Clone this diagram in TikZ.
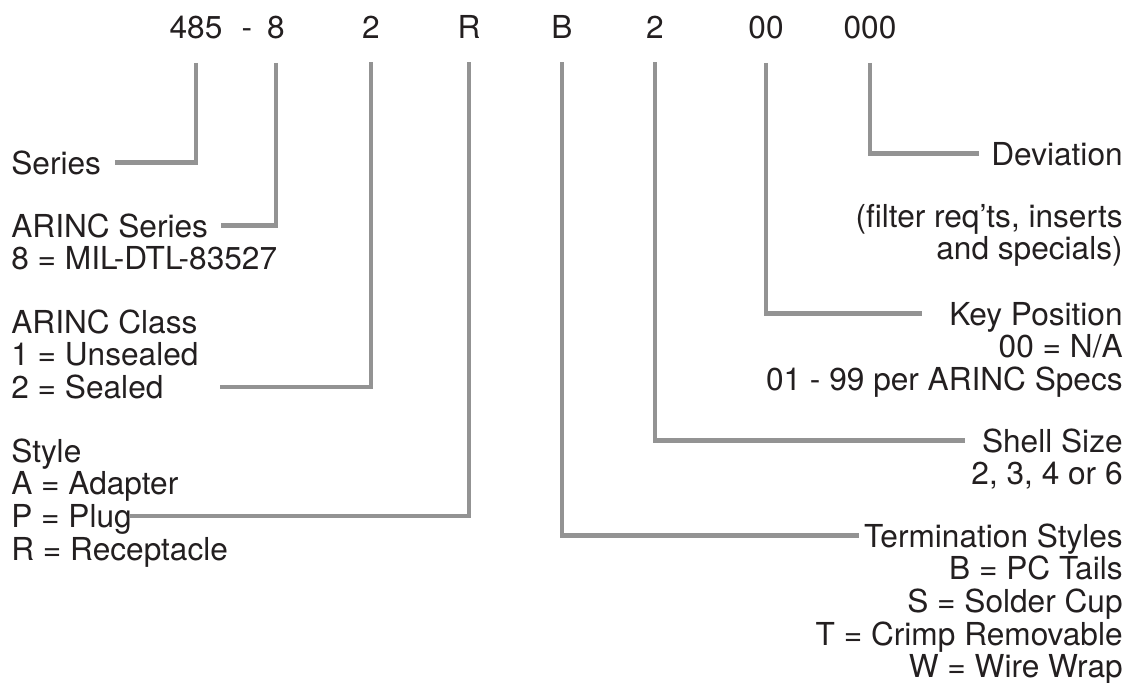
\documentclass[tikz,border=0pt]{standalone}
\usepackage{fontspec}
\setmainfont{TeX Gyre Heros}
\usepackage{tikz}
\usetikzlibrary{calc}
\definecolor{PnGray}{HTML}{939393}
\definecolor{PnInk}{HTML}{231F20}

\begin{document}
\begin{tikzpicture}[
  x=0.02cm,y=-0.02cm,
  code/.style={anchor=base,inner sep=0pt,font=\fontsize{18}{18.2}\selectfont,text=PnInk},
  lbl/.style={inner sep=0pt,text height=15.6pt,text depth=2.6pt,
    font=\fontsize{18}{18.2}\selectfont,text=PnInk},
  lead/.style={line width=2.6pt,color=PnGray}
]
  \useasboundingbox (0,0) rectangle (1137,683);

  % part number
  \node[code] (c485) at (196,38) {485};
  \node[code] (cdash) at (247,38) {-};
  \node[code] (c8) at (276,38) {8};
  \node[code] (cclass) at (371,38) {2};
  \node[code] (cstyle) at (469,38) {R};
  \node[code] (cterm) at (562,38) {B};
  \node[code] (cshell) at (655,38) {2};
  \node[code] (ckey) at (766,38) {00};
  \node[code] (cdev) at (870,38) {000};

  % left labels
  \node[lbl,anchor=base west] (series) at (11,174) {Series};
  \node[lbl,anchor=base west] (arser) at (11,237) {ARINC Series};
  \node[lbl,anchor=north west] (arser1) at (arser.south west) {8 = MIL-DTL-83527};
  \node[lbl,anchor=base west] (arcls) at (11,333) {ARINC Class};
  \node[lbl,anchor=north west] (arcls1) at (arcls.south west) {1 = Unsealed};
  \node[lbl,anchor=north west] (arcls2) at (arcls1.south west) {2 = Sealed};
  \node[lbl,anchor=base west] (style) at (11,462) {Style};
  \node[lbl,anchor=north west] (style1) at (style.south west) {A = Adapter};
  \node[lbl,anchor=north west] (style2) at (style1.south west) {P = Plug};
  \node[lbl,anchor=north west] (style3) at (style2.south west) {R = Receptacle};

  % right labels
  \node[lbl,anchor=base east] (dev) at (1123,165) {Deviation};
  \node[lbl,anchor=base east] (dev1) at (1123,227) {(filter req’ts, inserts};
  \node[lbl,anchor=north east] (dev2) at (dev1.south east) {and specials)};
  \node[lbl,anchor=base east] (key) at (1123,325) {Key Position};
  \node[lbl,anchor=north east] (key1) at (key.south east) {00 = N/A};
  \node[lbl,anchor=north east] (key2) at (key1.south east) {01 - 99 per ARINC Specs};
  \node[lbl,anchor=base east] (shell) at (1123,452) {Shell Size};
  \node[lbl,anchor=north east] (shell1) at (shell.south east) {2, 3, 4 or 6};
  \node[lbl,anchor=base east] (term) at (1123,547) {Termination Styles};
  \node[lbl,anchor=north east] (term1) at (term.south east) {B = PC Tails};
  \node[lbl,anchor=north east] (term2) at (term1.south east) {S = Solder Cup};
  \node[lbl,anchor=north east] (term3) at (term2.south east) {T = Crimp Removable};
  \node[lbl,anchor=north east] (term4) at (term3.south east) {W = Wire Wrap};

  % leaders
  \draw[lead] (c485.south) ++(0,24) |- ($(series.east)+(14,0)$);
  \draw[lead] (c8.south) ++(0,24) |- ($(arser.east)+(13,0)$);
  \draw[lead] (cclass.south) ++(0,24) |- ($(arcls2.east)+(56,0)$);
  \draw[lead] (cstyle.south) ++(0,24) |- ($(style2.east)+(-3,0)$);
  \draw[lead] (cterm.south) ++(0,24) |- ($(term.west)+(-5,0)$);
  \draw[lead] (cshell.south) ++(0,24) |- ($(shell.west)+(-17,0)$);
  \draw[lead] (ckey.south) ++(0,24) |- ($(key.west)+(-27,0)$);
  \draw[lead] (cdev.south) ++(0,24) |- ($(dev.west)+(-12,0)$);
\end{tikzpicture}
\end{document}
